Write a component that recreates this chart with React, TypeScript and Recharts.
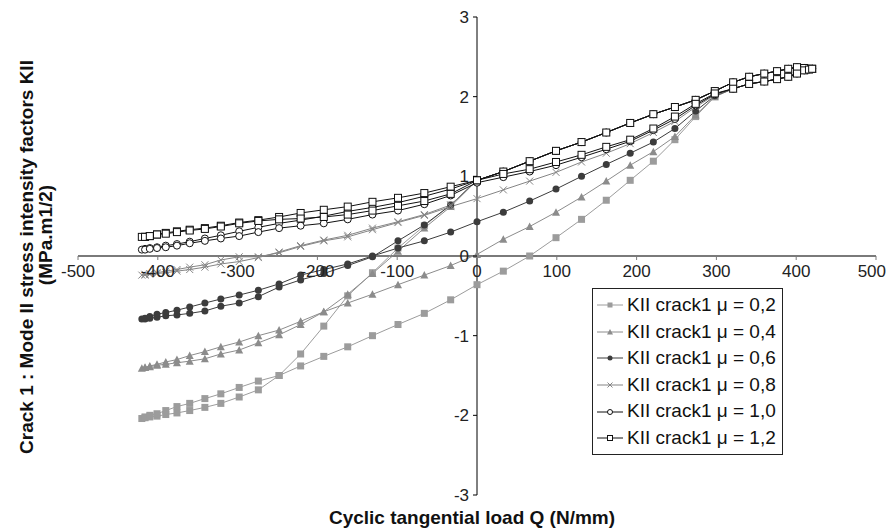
import React from "react";
import { LineChart, Line, XAxis, YAxis, ReferenceLine, Legend } from "recharts";

// load steps |Q| (N/mm), same for every branch
const LOAD_STEPS = [0, 33, 66, 99, 131, 162, 192, 221, 248, 274, 298, 321, 341, 360, 376, 390, 401, 410, 416, 420];

// unloading from +420 down to 0, shared by all friction coefficients
const UNLOAD_POS = [0.95, 1.06, 1.19, 1.32, 1.43, 1.55, 1.67, 1.78, 1.87, 1.96, 2.07, 2.18, 2.25, 2.29, 2.32, 2.35, 2.37, 2.36, 2.35, 2.35];

// per series: unloading Q = -33 .. -420, reloading Q = -33 .. -420, reloading Q = 0 .. 420
const MU02_UNLOAD_NEG = [0.64, 0.38, 0.1, -0.21, -0.5, -0.88, -1.23, -1.5, -1.68, -1.77, -1.85, -1.9, -1.94, -1.97, -1.99, -2.01, -2.02, -2.03, -2.04];
const MU02_RELOAD_NEG = [-0.55, -0.72, -0.86, -1.0, -1.14, -1.26, -1.38, -1.5, -1.57, -1.65, -1.73, -1.79, -1.85, -1.89, -1.94, -1.98, -2.0, -2.02, -2.04];
const MU02_RELOAD_POS = [-0.36, -0.19, 0.0, 0.23, 0.46, 0.7, 0.95, 1.19, 1.46, 1.75, 2.0, 2.1, 2.16, 2.19, 2.22, 2.25, 2.29, 2.33, 2.34, 2.35];

const MU04_UNLOAD_NEG = [0.62, 0.35, 0.06, -0.22, -0.48, -0.7, -0.86, -0.99, -1.09, -1.18, -1.23, -1.29, -1.32, -1.34, -1.36, -1.37, -1.39, -1.4, -1.41];
const MU04_RELOAD_NEG = [-0.12, -0.24, -0.36, -0.48, -0.59, -0.7, -0.82, -0.93, -1.0, -1.08, -1.14, -1.2, -1.25, -1.3, -1.33, -1.36, -1.38, -1.4, -1.41];
const MU04_RELOAD_POS = [0.02, 0.21, 0.37, 0.55, 0.74, 0.94, 1.14, 1.31, 1.5, 1.77, 2.0, 2.1, 2.16, 2.19, 2.22, 2.25, 2.29, 2.33, 2.34, 2.35];

const MU06_UNLOAD_NEG = [0.64, 0.39, 0.19, -0.01, -0.12, -0.22, -0.3, -0.39, -0.51, -0.59, -0.63, -0.69, -0.72, -0.74, -0.75, -0.77, -0.78, -0.79, -0.79];
const MU06_RELOAD_NEG = [0.3, 0.19, 0.1, 0.0, -0.1, -0.17, -0.24, -0.35, -0.43, -0.49, -0.54, -0.59, -0.64, -0.68, -0.71, -0.73, -0.76, -0.78, -0.79];
const MU06_RELOAD_POS = [0.43, 0.55, 0.69, 0.84, 1.0, 1.15, 1.29, 1.43, 1.6, 1.82, 2.01, 2.1, 2.16, 2.19, 2.22, 2.25, 2.29, 2.33, 2.34, 2.35];

const MU08_UNLOAD_NEG = [0.64, 0.52, 0.43, 0.35, 0.26, 0.2, 0.13, 0.05, -0.02, -0.07, -0.1, -0.14, -0.17, -0.19, -0.21, -0.22, -0.23, -0.24, -0.24];
const MU08_RELOAD_NEG = [0.62, 0.51, 0.42, 0.33, 0.24, 0.19, 0.12, 0.04, -0.01, -0.01, -0.05, -0.11, -0.14, -0.17, -0.19, -0.21, -0.22, -0.23, -0.24];
const MU08_RELOAD_POS = [0.72, 0.83, 0.94, 1.05, 1.18, 1.29, 1.41, 1.55, 1.69, 1.87, 2.02, 2.1, 2.16, 2.19, 2.22, 2.25, 2.29, 2.33, 2.34, 2.35];

const MU10_UNLOAD_NEG = [0.84, 0.75, 0.67, 0.61, 0.56, 0.5, 0.45, 0.41, 0.36, 0.31, 0.26, 0.22, 0.18, 0.15, 0.13, 0.11, 0.1, 0.09, 0.08];
const MU10_RELOAD_NEG = [0.76, 0.65, 0.57, 0.52, 0.46, 0.41, 0.38, 0.35, 0.3, 0.25, 0.22, 0.19, 0.16, 0.13, 0.11, 0.1, 0.09, 0.08, 0.08];
const MU10_RELOAD_POS = [0.92, 0.99, 1.06, 1.14, 1.24, 1.34, 1.44, 1.58, 1.72, 1.89, 2.03, 2.1, 2.16, 2.19, 2.22, 2.25, 2.29, 2.33, 2.34, 2.35];

const MU12_UNLOAD_NEG = [0.87, 0.79, 0.73, 0.68, 0.62, 0.58, 0.54, 0.49, 0.45, 0.42, 0.38, 0.35, 0.33, 0.31, 0.29, 0.27, 0.25, 0.24, 0.24];
const MU12_RELOAD_NEG = [0.78, 0.69, 0.63, 0.57, 0.52, 0.49, 0.47, 0.46, 0.44, 0.41, 0.37, 0.34, 0.32, 0.3, 0.28, 0.27, 0.25, 0.24, 0.24];
const MU12_RELOAD_POS = [0.95, 1.03, 1.09, 1.18, 1.27, 1.37, 1.46, 1.6, 1.75, 1.91, 2.04, 2.1, 2.16, 2.19, 2.22, 2.25, 2.29, 2.33, 2.34, 2.35];

const X_TICKS = [-500, -400, -300, -200, -100, 0, 100, 200, 300, 400, 500];
const Y_TICKS = [-3, -2, -1, 0, 1, 2, 3];

const FONT = '"Liberation Sans", Arial, Helvetica, sans-serif';
const W = 888;
const H = 528;
const MARGIN = { top: 17, right: 12, bottom: 32, left: 77 };
const PLOT_W = W - MARGIN.left - 1 - MARGIN.right;
const PLOT_H = H - MARGIN.top - MARGIN.bottom - 1;
const ZERO_X = MARGIN.left + 1 + PLOT_W / 2;
const ZERO_Y = MARGIN.top + PLOT_H / 2;

type Pt = { q: number; v: number };

// one full cycle: +420 -> -420 -> +420
function buildCycle(unloadNeg: number[], reloadNeg: number[], reloadPos: number[]): Pt[] {
  const pts: Pt[] = [];
  for (let i = LOAD_STEPS.length - 1; i >= 0; i--) pts.push({ q: LOAD_STEPS[i], v: UNLOAD_POS[i] });
  unloadNeg.forEach((v, i) => pts.push({ q: -LOAD_STEPS[i + 1], v }));
  for (let i = reloadNeg.length - 2; i >= 0; i--) pts.push({ q: -LOAD_STEPS[i + 1], v: reloadNeg[i] });
  reloadPos.forEach((v, i) => pts.push({ q: LOAD_STEPS[i], v }));
  return pts;
}

type Shape = "square" | "triangle" | "dot" | "cross" | "ring" | "box";

const SERIES = [
  { name: "KII crack1 μ = 0,2", shape: "square" as Shape, color: "#9c9c9c", data: buildCycle(MU02_UNLOAD_NEG, MU02_RELOAD_NEG, MU02_RELOAD_POS) },
  { name: "KII crack1 μ = 0,4", shape: "triangle" as Shape, color: "#8c8c8c", data: buildCycle(MU04_UNLOAD_NEG, MU04_RELOAD_NEG, MU04_RELOAD_POS) },
  { name: "KII crack1 μ = 0,6", shape: "dot" as Shape, color: "#3c3c3c", data: buildCycle(MU06_UNLOAD_NEG, MU06_RELOAD_NEG, MU06_RELOAD_POS) },
  { name: "KII crack1 μ = 0,8", shape: "cross" as Shape, color: "#858585", data: buildCycle(MU08_UNLOAD_NEG, MU08_RELOAD_NEG, MU08_RELOAD_POS) },
  { name: "KII crack1 μ = 1,0", shape: "ring" as Shape, color: "#111111", data: buildCycle(MU10_UNLOAD_NEG, MU10_RELOAD_NEG, MU10_RELOAD_POS) },
  { name: "KII crack1 μ = 1,2", shape: "box" as Shape, color: "#111111", data: buildCycle(MU12_UNLOAD_NEG, MU12_RELOAD_NEG, MU12_RELOAD_POS) },
];

function Marker({ shape, cx, cy, color, s = 3.5 }: { shape: Shape; cx: number; cy: number; color: string; s?: number }) {
  switch (shape) {
    case "square":
      return <rect x={cx - s} y={cy - s} width={2 * s} height={2 * s} fill={color} />;
    case "triangle":
      return <polygon points={`${cx},${cy - s - 0.5} ${cx + s + 0.5},${cy + s} ${cx - s - 0.5},${cy + s}`} fill={color} />;
    case "dot":
      return <circle cx={cx} cy={cy} r={s} fill={color} />;
    case "cross":
      return (
        <g stroke={color} strokeWidth={1}>
          <line x1={cx - s} y1={cy - s} x2={cx + s} y2={cy + s} />
          <line x1={cx - s} y1={cy + s} x2={cx + s} y2={cy - s} />
        </g>
      );
    case "ring":
      return <circle cx={cx} cy={cy} r={s} fill="#fff" stroke={color} strokeWidth={1} />;
    default:
      return <rect x={cx - s} y={cy - s} width={2 * s} height={2 * s} fill="#fff" stroke={color} strokeWidth={1} />;
  }
}

const renderXTick = (p: any) => {
  // keep the last label inside the picture
  const last = p.payload.value === X_TICKS[X_TICKS.length - 1];
  return (
    <g key={`xt-${p.payload.value}`}>
      <line x1={p.x} x2={p.x} y1={ZERO_Y} y2={ZERO_Y + 4} stroke="#7a7a7a" />
      <text
        x={last ? W - 2 : p.x}
        y={ZERO_Y + 21}
        textAnchor={last ? "end" : "middle"}
        fontSize={17}
        fontFamily={FONT}
        fill="#222"
      >
        {p.payload.value}
      </text>
    </g>
  );
};

const renderYTick = (p: any) => (
  <g key={`yt-${p.payload.value}`}>
    <line x1={ZERO_X - 4} x2={ZERO_X} y1={p.y} y2={p.y} stroke="#000" />
    <text x={ZERO_X - 8} y={p.y + 6} textAnchor="end" fontSize={17} fontFamily={FONT} fill="#222">
      {p.payload.value}
    </text>
  </g>
);

const LegendBox = () => (
  <div
    style={{
      border: "1px solid #222",
      background: "#fff",
      padding: "3px 6px 2px 4px",
      fontFamily: FONT,
      fontSize: 19,
      lineHeight: "26.6px",
      color: "#111",
    }}
  >
    {SERIES.map((s) => (
      <div key={s.name} style={{ display: "flex", alignItems: "center", whiteSpace: "nowrap" }}>
        <svg width={26} height={12} style={{ flex: "none" }}>
          <line x1={0} x2={26} y1={6} y2={6} stroke={s.color} strokeWidth={1} />
          <Marker shape={s.shape} cx={13} cy={6} color={s.color} s={2.5} />
        </svg>
        <span style={{ marginLeft: 4 }}>{s.name}</span>
      </div>
    ))}
  </div>
);

export default function App() {
  return (
    <div style={{ position: "absolute", left: 0, top: 0, width: W, height: H, background: "#fff" }}>
      <LineChart width={W} height={H} margin={MARGIN}>
        <XAxis
          type="number"
          dataKey="q"
          domain={[-500, 500]}
          ticks={X_TICKS}
          height={1}
          axisLine={false}
          tickLine={false}
          tick={renderXTick}
          interval={0}
          allowDataOverflow
        />
        <YAxis
          type="number"
          domain={[-3, 3]}
          ticks={Y_TICKS}
          width={1}
          axisLine={false}
          tickLine={false}
          tick={renderYTick}
          interval={0}
          allowDataOverflow
        />
        <ReferenceLine y={0} stroke="#7a7a7a" strokeWidth={2} />
        <ReferenceLine x={0} stroke="#000" strokeWidth={1} />
        <Legend
          layout="vertical"
          align="center"
          verticalAlign="middle"
          content={<LegendBox />}
          wrapperStyle={{ position: "absolute", left: 592, top: 288, width: "auto" }}
        />
        {SERIES.map((s) => (
          <Line
            key={s.name}
            data={s.data}
            dataKey="v"
            type="linear"
            stroke={s.color}
            strokeWidth={1}
            isAnimationActive={false}
            dot={(p: any) => (
              <Marker key={`${s.name}-${p.index}`} shape={s.shape} cx={p.cx} cy={p.cy} color={s.color} />
            )}
            activeDot={false}
          />
        ))}
      </LineChart>
      <svg
        width={W}
        height={H}
        style={{ position: "absolute", left: 0, top: 0, pointerEvents: "none" }}
        fontFamily={FONT}
        fontWeight="bold"
        fontSize={19}
        fill="#111"
      >
        <text x={472} y={524} textAnchor="middle">
          Cyclic tangential load Q (N/mm)
        </text>
        <text transform="translate(26,257) rotate(-90)" textAnchor="middle" dominantBaseline="central">
          Crack 1 : Mode II stress intensity factors KII
        </text>
        <text transform="translate(45,235) rotate(-90)" textAnchor="middle" dominantBaseline="central">
          (MPa.m1/2)
        </text>
      </svg>
    </div>
  );
}
